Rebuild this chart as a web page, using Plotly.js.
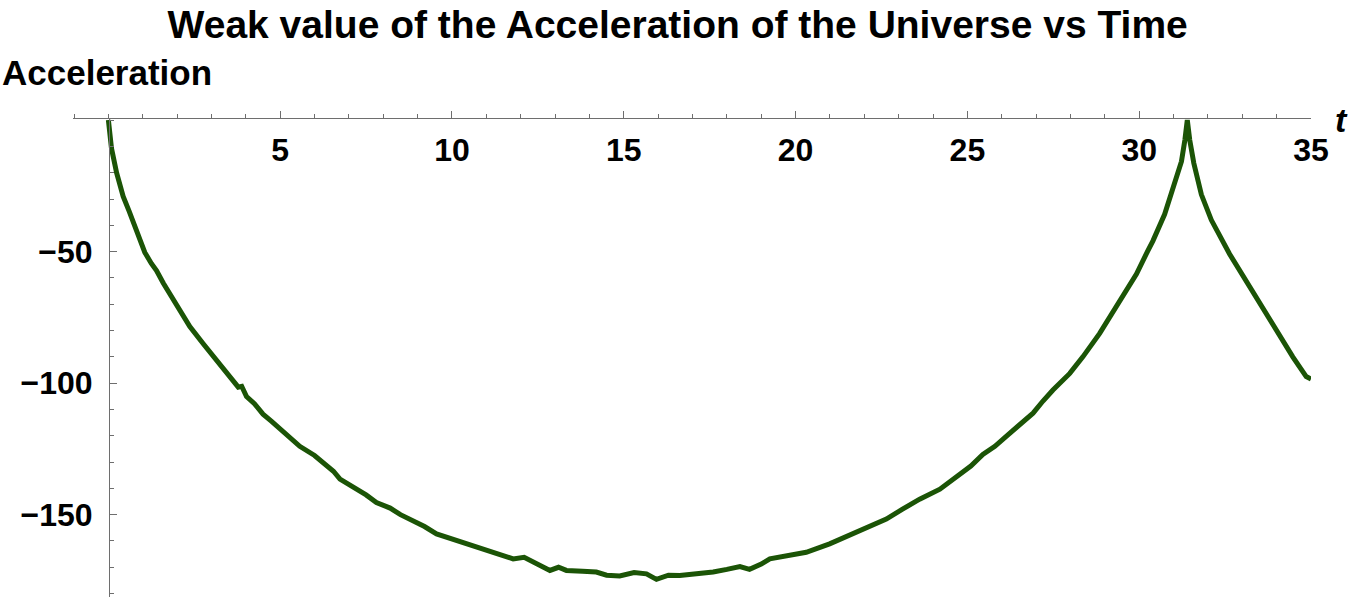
<!DOCTYPE html>
<html>
<head>
<meta charset="utf-8">
<script src="https://cdn.plot.ly/plotly-3.0.1.min.js"></script>
<style>
  body { margin: 0; background: #ffffff; }
</style>
</head>
<body>
<div id="myPlot" style="width:1350px;height:600px;"></div>
<script>
// values
var time = [0, 0.03, 0.09, 0.24, 0.43, 0.6, 0.72, 0.9, 1.06, 1.25, 1.4, 1.6, 1.79, 2.1, 2.37,
    2.76, 3.15, 3.5, 3.68, 3.78, 3.88, 4.02, 4.25, 4.5, 4.75, 5.0, 5.28, 5.57, 6.0, 6.35,
    6.55, 6.74, 7.2, 7.5, 7.8, 8.2, 8.5, 8.87, 9.2, 9.55, 10.2, 10.81, 11.3, 11.78, 12.1,
    12.5, 12.85, 13.1, 13.33, 13.8, 14.2, 14.5, 14.88, 15.3, 15.66, 15.95, 16.3, 16.63, 17.1,
    17.6, 18.0, 18.38, 18.66, 19.0, 19.25, 19.8, 20.31, 20.99, 21.4, 21.86, 22.3, 22.64, 23.1,
    23.61, 24.2, 24.68, 25.1, 25.45, 25.8, 26.13, 26.5, 26.91, 27.2, 27.49, 27.98, 28.36,
    28.85, 29.33, 29.92, 30.25, 30.4, 30.74, 30.93, 31.1, 31.23, 31.33, 31.4, 31.47, 31.59,
    31.81, 32.1, 32.63, 33.21, 33.89, 34.47, 34.86, 35.0];
var accel = [0, -5.5, -10.7, -20.1, -29.0, -34.5, -38.5, -44.5, -50.3, -54.5, -57.2, -62.0, -66.0, -72.5, -78.5,
    -85.0, -91.2, -96.5, -100.0, -101.5, -101.2, -105.1, -107.8, -111.8, -114.5, -117.5, -120.8, -124.0, -127.5, -131.5,
    -133.5, -136.5, -140.0, -142.5, -145.4, -147.5, -150.0, -152.3, -154.5, -157.3, -160.0, -163.0, -165.0, -166.8, -166.2,
    -169.0, -171.2, -170.0, -171.2, -171.5, -171.8, -173.0, -173.3, -172.0, -172.5, -174.6, -173.0, -173.1, -172.6,
    -171.8, -170.8, -169.7, -170.8, -168.8, -166.8, -165.6, -164.3, -161.1, -158.8, -156.1, -153.8, -151.7, -148.0,
    -144.1, -140.3, -135.9, -131.5, -127.1, -124.0, -120.2, -116.0, -111.4, -106.8, -102.6, -96.3, -90.0,
    -81.1, -71.1, -58.5, -49.7, -45.9, -35.8, -28.3, -21.5, -15.7, -7.5, 0, -7.5, -16.4,
    -28.3, -38.0, -50.9, -63.5, -77.4, -90.0, -97.5, -98.4];
var xTicks = [5, 10, 15, 20, 25, 30, 35];
var yTicks = [-150, -100, -50];
var yTickText = ["\u2212150", "\u2212100", "\u221250"];

var fontFam = "Liberation Sans, Arial, Helvetica, sans-serif";
var axisCol = "#6e6e6e";

var plot = function () {
    var data = [{
        x: time,
        y: accel,
        mode: "lines",
        type: "scatter",
        line: {
            color: "#1b5406",
            width: 5
        },
        hoverinfo: "skip"
    }];

    var layout = {
        width: 1350,
        height: 600,
        margin: {l: 73, r: 39, t: 118, b: 3},
        paper_bgcolor: "#ffffff",
        plot_bgcolor: "#ffffff",
        showlegend: false,
        title: {
            text: "Weak value of the Acceleration of the Universe vs Time",
            font: {family: fontFam, size: 39, color: "#000000", weight: "bold"},
            xref: "container",
            x: 0.502,
            xanchor: "center",
            yref: "container",
            y: 1 - 24 / 600,
            yanchor: "middle"
        },
        xaxis: {
            range: [-1.03, 35],
            anchor: "free",
            position: 1,
            side: "bottom",
            showline: true,
            linecolor: axisCol,
            linewidth: 1,
            showgrid: false,
            zeroline: false,
            ticks: "inside",
            ticklen: 7,
            tickwidth: 1,
            tickcolor: axisCol,
            tickmode: "array",
            tickvals: xTicks,
            ticktext: xTicks.map(String),
            ticklabelstandoff: 4,
            tickfont: {family: fontFam, size: 32, color: "#000000", weight: "bold"},
            minor: {tickmode: "linear", tick0: 0, dtick: 1, ticks: "inside", ticklen: 4, tickwidth: 1, tickcolor: axisCol, showgrid: false}
        },
        yaxis: {
            range: [-181.3, 0.8],
            anchor: "free",
            position: 36 / 1238,
            side: "left",
            showline: true,
            linecolor: axisCol,
            linewidth: 1,
            showgrid: false,
            zeroline: false,
            ticks: "inside",
            ticklen: 7,
            tickwidth: 1,
            tickcolor: axisCol,
            tickmode: "array",
            tickvals: yTicks,
            ticktext: yTickText,
            ticklabelstandoff: 10,
            tickfont: {family: fontFam, size: 32, color: "#000000", weight: "bold"},
            minor: {tickmode: "linear", tick0: 0, dtick: 10, ticks: "inside", ticklen: 4, tickwidth: 1, tickcolor: axisCol, showgrid: false}
        },
        annotations: [{
            text: "Acceleration",
            xref: "paper", yref: "paper",
            x: -73 / 1238, y: 1 + 46 / 479,
            xanchor: "left", yanchor: "middle",
            showarrow: false,
            font: {family: fontFam, size: 35, color: "#000000", weight: "bold"}
        }, {
            text: "<i>t</i>",
            xref: "paper", yref: "paper",
            x: (1341 - 73) / 1238, y: 1 - 2 / 479,
            xanchor: "center", yanchor: "middle",
            showarrow: false,
            font: {family: fontFam, size: 34, color: "#000000", weight: "bold"}
        }]
    };

    Plotly.newPlot("myPlot", data, layout, {staticPlot: true, displayModeBar: false});
};

plot();
</script>
</body>
</html>
